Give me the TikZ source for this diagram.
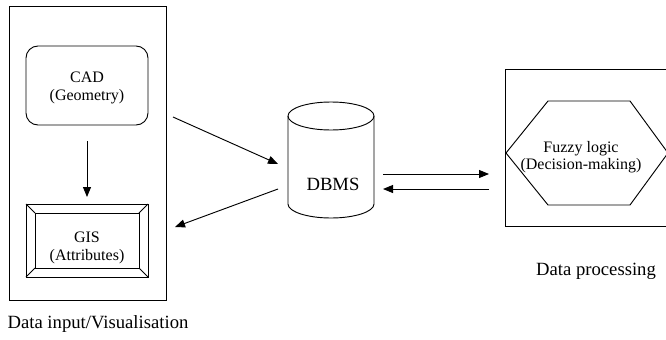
\documentclass[tikz,border=0pt]{standalone}
\usepackage{fontspec}
\setmainfont{Liberation Serif}
\usetikzlibrary{arrows.meta}
\begin{document}
\begin{tikzpicture}[x=0.75pt,y=-0.75pt,
  line width=0.7pt,
  arr/.style={-{Triangle[length=7.5pt,width=6pt]}},
  intxt/.style={font=\fontsize{12}{14}\selectfont, align=center, inner sep=0pt},
  captxt/.style={font=\fontsize{14}{16}\selectfont, inner sep=0pt}]
\useasboundingbox (0,0) rectangle (666,339);
\begin{scope}
\clip (0,0) rectangle (666,339);
% left group
\draw (9,6) rectangle (166,300);
\draw[rounded corners=9pt] (26,46) rectangle (148,125);
\node[intxt] (cad) at (87,88) {CAD\\(Geometry)};
\coordinate (cadb) at (87,141);
\coordinate (gist) at (87,197);
\draw (26,204) rectangle (148,277);
\draw (35,213) rectangle (139,268);
\draw (26,204) -- (35,213) (148,204) -- (139,213) (26,277) -- (35,268) (148,277) -- (139,268);
\node[intxt] (gis) at (87,248) {GIS\\(Attributes)};
\node[captxt] (lcap) at (98,324) {Data input/Visualisation};
% DBMS
\draw (288,116) -- (288,204) arc[start angle=180,end angle=0,x radius=43,y radius=14] -- (374,116);
\draw (331,116) ellipse[x radius=43,y radius=14];
\node[captxt] (dbms) at (333,184) {DBMS};
% right group
\draw (690,69) -- (505,69) -- (505,226) -- (690,226);
\draw (506,153) -- (548,101) -- (630,101) -- (668,153) -- (630,205) -- (548,205) -- cycle;
\node[intxt, font=\fontsize{12}{13}\selectfont] (fuzzy) at (581,157) {Fuzzy logic\\(Decision-making)};
\node[captxt] (rcap) at (596,271) {Data processing};
% connectors
\coordinate (a1s) at (173,117); \coordinate (a1e) at (278,164);
\coordinate (a2s) at (278,189); \coordinate (a2e) at (175,227);
\coordinate (a3s) at (383,174); \coordinate (a3e) at (489,174);
\coordinate (a4s) at (489,189); \coordinate (a4e) at (383,189);
\draw[arr] (cadb) -- (gist);
\draw[arr] (a1s) -- (a1e);
\draw[arr] (a2s) -- (a2e);
\draw[arr] (a3s) -- (a3e);
\draw[arr] (a4s) -- (a4e);
\end{scope}
\end{tikzpicture}
\end{document}
